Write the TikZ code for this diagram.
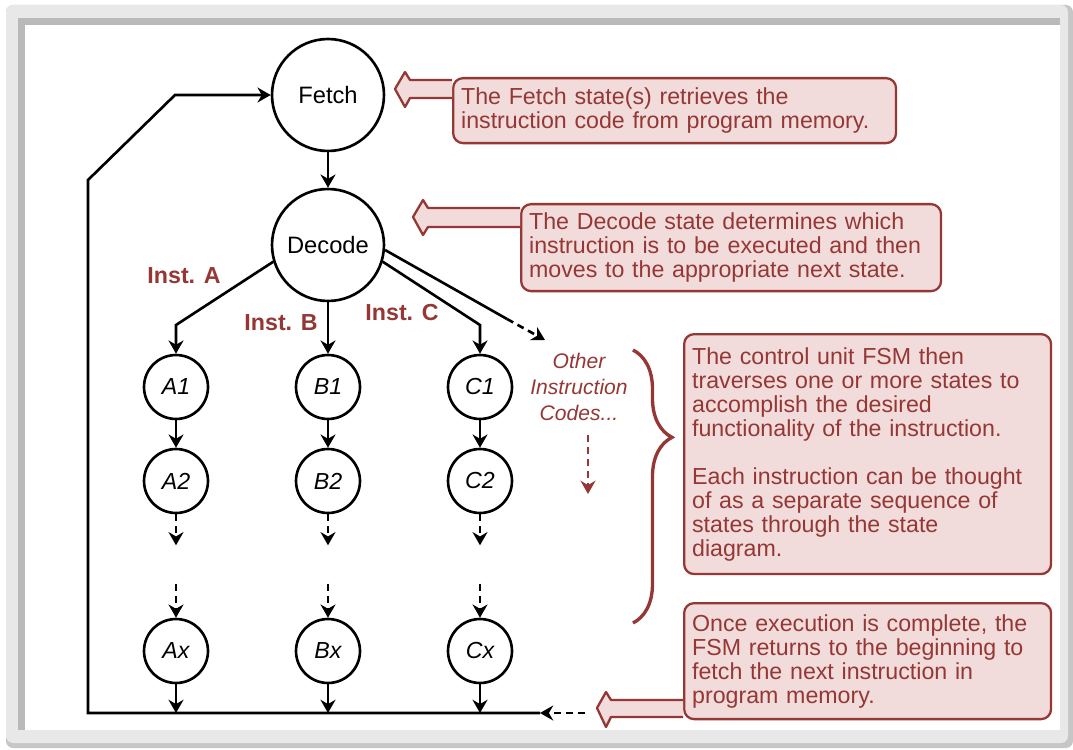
\documentclass[tikz,border=0pt]{standalone}
\usepackage{fontspec}
\setmainfont{Liberation Sans}
\usetikzlibrary{arrows.meta,decorations.pathreplacing}
\definecolor{darkred}{HTML}{953735}
\definecolor{lightpink}{HTML}{F2DCDB}

\begin{document}
\begin{tikzpicture}[x=0.02cm, y=-0.02cm, >={Stealth[length=7.5pt,width=8.5pt]},
    bigstate/.style={draw, circle, line width=1.5pt, minimum size=2.24cm, inner sep=0pt, font=\fontsize{13.5}{14}\selectfont},
    smallstate/.style={draw, circle, line width=1.5pt, minimum size=1.28cm, inner sep=0pt, font=\fontsize{13.2}{14}\selectfont\itshape},
    note/.style={draw=darkred, fill=lightpink, line width=1.3pt, rounded corners=0.2cm, anchor=north west, align=left,
        text=darkred, inner xsep=0.16cm, inner ysep=0pt, font=\fontsize{13.2}{13.66}\selectfont},
    instlabel/.style={text=darkred, font=\fontsize{13.2}{14}\selectfont\bfseries},
    flow/.style={->, line width=1.5pt},
    dots/.style={->, line width=1.5pt, dash pattern=on 4pt off 2.8pt},
    callout/.style={draw=darkred, fill=lightpink, line width=1.3pt, line join=round}]

    \useasboundingbox (0,0) rectangle (1073,750);
    \fill[gray!45, rounded corners=4pt] (6,5) rectangle (1073,748);
    \fill[gray!18, rounded corners=4pt] (6,5) rectangle (1068,743);
    \fill[gray!55] (18,18) rectangle (1060,730);
    \fill[white] (25,25) rectangle (1060,730);

    \node[bigstate] (fetch) at (328,95) {Fetch};
    \node[bigstate] (dec) at (328,245) {Decode};
    \node[smallstate] (a1) at (176,387) {A1};
    \node[smallstate] (a2) at (176,481) {A2};
    \node[smallstate] (ax) at (176,651) {Ax};
    \node[smallstate] (b1) at (328,387) {B1};
    \node[smallstate] (b2) at (328,481) {B2};
    \node[smallstate] (bx) at (328,651) {Bx};
    \node[smallstate] (c1) at (480,387) {C1};
    \node[smallstate] (c2) at (480,481) {C2};
    \node[smallstate] (cx) at (480,651) {Cx};

    \node[instlabel] (insta) at (184,276) {Inst. A};
    \node[instlabel] (instb) at (281,323) {Inst. B};
    \node[instlabel] (instc) at (402,313) {Inst. C};
    \node[text=darkred, align=center, font=\fontsize{12}{14.8}\selectfont\itshape] (other) at (579,387) {Other\\Instruction\\Codes...};

    \coordinate (abend) at (176,325);
    \coordinate (cbend) at (480,325);
    \coordinate (othbend) at (507,319);
    \coordinate (othtip) at (545,340);
    \coordinate (othdown) at (588,435);
    \coordinate (othend) at (588,494);
    \coordinate (retstart) at (540,713);
    \coordinate (retdash) at (585,713);
    \coordinate (botleft) at (88,713);
    \coordinate (leftbend) at (88,180);
    \coordinate (topbend) at (175,95);

    \draw[flow] (fetch) -- (dec);
    \draw[flow] (dec.197) -- (abend) -- (a1);
    \draw[flow] (dec) -- (b1);
    \draw[flow] (dec.343) -- (cbend) -- (c1);
    \draw[line width=1.5pt] (dec.-5) -- (othbend);
    \draw[dots] (othbend) -- (othtip);
    \draw[dots, darkred] (othdown) -- (othend);

    \draw[flow] (a1) -- (a2);
    \draw[flow] (b1) -- (b2);
    \draw[flow] (c1) -- (c2);
    \foreach \s in {a,b,c} {
        \draw[dots] (\s2.south) -- ++(0,31);
        \draw[dots] ([yshift=0.68cm]\s x.north) -- (\s x);
        \draw[flow] (\s x) -- (\s x |- retstart);
    }

    \draw[flow] (retstart) -- (botleft) -- (leftbend) -- (topbend) -- (fetch);
    \draw[dots] (retdash) -- (retstart);

    \draw[darkred, line width=1.9pt, decorate, decoration={brace, amplitude=0.78cm, aspect=0.32}] (633,350) -- (633,623);

    \node[note, text width=8.54cm, minimum height=1.3cm] (fnote) at (452,77)
        {The Fetch state(s) retrieves the\\instruction code from program memory.};
    \node[note, text width=8.08cm, minimum height=1.74cm] (dnote) at (520,203)
        {The Decode state determines which\\instruction is to be executed and then\\moves to the appropriate next state.};
    \node[note, text width=7.02cm, minimum height=4.8cm] (snote) at (683,333)
        {The control unit FSM then\\traverses one or more states to\\accomplish the desired\\functionality of the instruction.\\[4.8mm]Each instruction can be thought\\of as a separate sequence of\\states through the state\\diagram.};
    \node[note, text width=7.02cm, minimum height=2.32cm] (rnote) at (683,602)
        {Once execution is complete, the\\FSM returns to the beginning to\\fetch the next instruction in\\program memory.};

    \filldraw[callout] (fnote.west |- 0,80) -- (410,80) -- (405,72) -- (395,89) -- (405,107) -- (410,98) -- (fnote.west |- 0,98);
    \filldraw[callout] (dnote.west |- 0,208) -- (428,208) -- (423,200) -- (413,217) -- (423,235) -- (428,227) -- (dnote.west |- 0,227);
    \filldraw[callout] (rnote.west |- 0,700) -- (611,700) -- (606,692) -- (597,708) -- (606,727) -- (611,717) -- (rnote.west |- 0,717);
\end{tikzpicture}
\end{document}
